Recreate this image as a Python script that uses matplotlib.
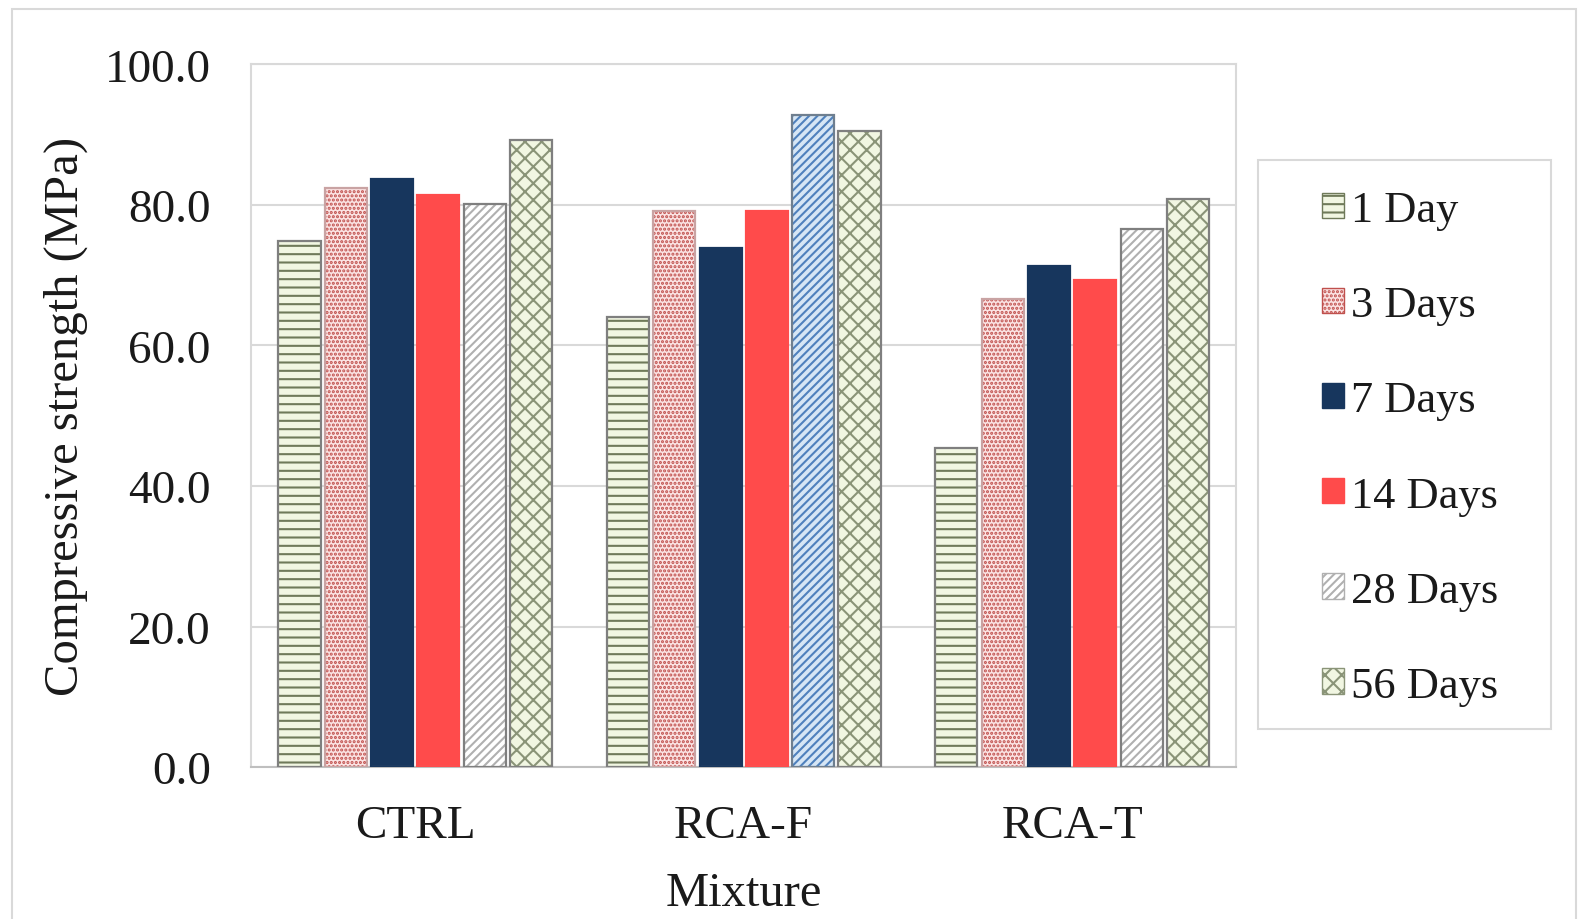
import numpy as np
import matplotlib
matplotlib.use("Agg")
import matplotlib.pyplot as plt
from matplotlib.patches import Rectangle, Patch

plt.rcParams['font.family'] = ['Liberation Serif', 'DejaVu Serif']
plt.rcParams['hatch.linewidth'] = 1.5

# compressive strength (MPa) by mixture and curing age
mixtures = ['CTRL', 'RCA-F', 'RCA-T']
ages = ['1 Day', '3 Days', '7 Days', '14 Days', '28 Days', '56 Days']
day1 = [74.8, 64.0, 45.4]
day3 = [82.4, 79.2, 66.6]
day7 = [83.7, 73.9, 71.3]
day14 = [81.4, 79.2, 69.3]
day28 = [80.1, 92.8, 76.6]
day56 = [89.3, 90.5, 80.9]
series = [day1, day3, day7, day14, day28, day56]

# fill, hatch, hatch colour and outline per age
fills = ['#f1f6e2', '#fbe3e3', '#17365d', '#ff4b4b', '#ffffff', '#f1f6e2']
hatches = ['--', '....', '', '', '////', 'xx']
hatch_cols = ['#6f7a5a', '#c0504d', '#17365d', '#ff4b4b', '#b0b0b0', '#8a9478']
outline = ['#7f7f7f', '#c9a3a3', '#17365d', '#ff4b4b', '#7f7f7f', '#7f7f7f']

fig = plt.figure(figsize=(15.79, 9.2), dpi=100)
ax = fig.add_axes([0.159, 0.165, 0.624, 0.764])

x = np.arange(len(mixtures))
pitch = 0.141
width = 0.128
for i, vals in enumerate(series):
    pos = x + (i - 2.5) * pitch
    for j, (p, v) in enumerate(zip(pos, vals)):
        fc, hc, h, oc = fills[i], hatch_cols[i], hatches[i], outline[i]
        # RCA-F at 28 days is shown in blue
        if i == 4 and j == 1:
            fc, hc, oc = '#d6e6f5', '#4f81bd', '#6f7f8f'
        ax.bar(p, v, width, color=fc, hatch=h, edgecolor=hc, linewidth=0, zorder=2)
        ax.bar(p, v, width, color='none', edgecolor=oc, linewidth=1.6, zorder=3)

ax.set_ylim(0, 100)
ax.set_xlim(-0.5, 2.5)
ax.set_yticks(np.arange(0, 101, 20))
ax.set_yticklabels(['%.1f' % t for t in np.arange(0, 101, 20)])
ax.set_xticks(x)
ax.set_xticklabels(mixtures)
ax.tick_params(axis='both', length=0, labelsize=34, colors='#1a1a1a')
ax.tick_params(axis='y', pad=29)
ax.tick_params(axis='x', pad=27)
ax.grid(axis='y', color='#d9d9d9', linewidth=1.5, zorder=0)
for s in ax.spines.values():
    s.set_color('#d9d9d9')
    s.set_linewidth(1.5)
ax.spines['bottom'].set_color('#bfbfbf')
ax.set_ylabel('Compressive strength (MPa)', fontsize=35, labelpad=12, color='#1a1a1a')
ax.set_xlabel('Mixture', fontsize=35, labelpad=17, color='#1a1a1a')

# legend frame drawn separately so the inner padding can be set freely
fig.patches.append(Rectangle((0.797, 0.2065), 0.185, 0.6185, transform=fig.transFigure,
                             facecolor='white', edgecolor='#d9d9d9', linewidth=1.5, zorder=1))
handles = []
for i in range(len(ages)):
    ec = outline[i] if i in (2, 3) else hatch_cols[i]
    handles.append(Patch(facecolor=fills[i], hatch=hatches[i], edgecolor=ec,
                         linewidth=1, label=ages[i]))
leg = fig.legend(handles=handles, loc='center left', bbox_to_anchor=(0.837, 0.512),
                 fontsize=32, frameon=False, labelcolor='#1a1a1a',
                 handlelength=0.5, handleheight=0.5, handletextpad=0.15,
                 labelspacing=1.24, borderpad=0, borderaxespad=0)
leg.set_zorder(5)

# light border round the whole figure
fig.patches.append(Rectangle((0.0077, -0.01), 0.9903, 0.999, transform=fig.transFigure,
                             fill=False, edgecolor='#d9d9d9', linewidth=1.5))

fig.savefig('out.png', dpi=100)
